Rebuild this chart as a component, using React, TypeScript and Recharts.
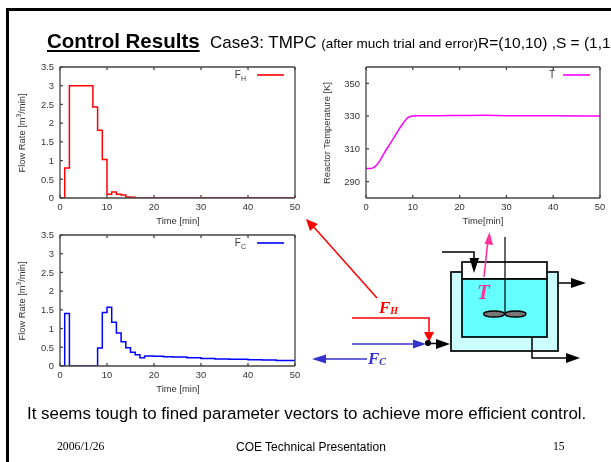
import React from "react";
import { LineChart, Line, XAxis, YAxis, Legend } from "recharts";

const timeMinutes = [0,1,2,3,4,5,6,7,8,9,10,11,12,13,14,15,16,17,18,19,20,22,24,27,30,33,36,40,43,46,50];
const heatFlow = [0,0.8,3,3,3,3,3,2.43,1.81,1.03,0.1,0.16,0.1,0.08,0.03,0.02,0,0,0,0,0,0,0,0,0,0,0,0,0,0,0];
const coolFlow = [0,1.4,0,0,0,0,0,0,0.48,1.43,1.57,1.17,0.88,0.65,0.49,0.37,0.3,0.22,0.27,0.27,0.26,0.25,0.24,0.22,0.2,0.19,0.18,0.17,0.16,0.15,0.14];
const tempTime = [0,1,1.5,2,3,4,5,6,7,8,9,9.5,10,11,12,15,20,25,30,40,50];
const temperature = [298,298,298.4,299.3,303,308,312.5,317,321.8,326,329.2,329.8,330.1,330.3,330.3,330.3,330.4,330.5,330.3,330.2,330.1];
const timeTicks = [0,10,20,30,40,50];
const flowTicks = [0,0.5,1,1.5,2,2.5,3,3.5];
const tempTicks = [290,310,330,350];

const heatData = timeMinutes.map((t, i) => ({ t, v: heatFlow[i] }));
const coolData = timeMinutes.map((t, i) => ({ t, v: coolFlow[i] }));
const tempData = tempTime.map((t, i) => ({ t, v: temperature[i] }));

const AX = "#444";
const FONT = "'Liberation Sans', Arial, sans-serif";
const tick = { fontSize: 9.4, fill: "#333", fontFamily: FONT };
const axLine = { stroke: AX, strokeWidth: 1.3 };
const blank = () => "";

type PanelProps = {
  left: number; top: number; width: number; height: number; mLeft: number;
  data: { t: number; v: number }[]; yDomain: [number, number]; yTicks: number[];
  color: string; type: "stepAfter" | "monotone"; yLabel: React.ReactNode; yLabelX: number; xLabel: string; xLabelCenter: number;
  name: string; sub?: string;
};

function Panel(p: PanelProps) {
  const plotTop = 12;
  const bottom = 32;
  const plotH = p.height - plotTop - bottom;
  return (
    <div style={{ position: "absolute", left: p.left, top: p.top, width: p.width, height: p.height }}>
      <LineChart width={p.width} height={p.height} data={p.data}
        margin={{ top: plotTop - 1, right: 9, bottom: 14, left: p.mLeft - 40 }}>
        <XAxis xAxisId="b" dataKey="t" type="number" domain={[0, 50]} ticks={timeTicks} allowDataOverflow
          height={18} axisLine={axLine} tickLine={axLine} tickSize={-3} tickMargin={8} tick={tick} interval={0} />
        <XAxis xAxisId="t" dataKey="t" type="number" domain={[0, 50]} ticks={timeTicks} orientation="top"
          height={1} axisLine={axLine} tickLine={axLine} tickSize={-3} tickFormatter={blank} interval={0} />
        <YAxis yAxisId="l" type="number" domain={p.yDomain} ticks={p.yTicks} width={40} allowDataOverflow
          axisLine={axLine} tickLine={axLine} tickSize={-3} tickMargin={9} tick={tick} interval={0} />
        <YAxis yAxisId="r" type="number" domain={p.yDomain} ticks={p.yTicks} orientation="right" width={1}
          axisLine={axLine} tickLine={axLine} tickSize={-3} tickFormatter={blank} interval={0} />
        <Legend verticalAlign="top" align="right" wrapperStyle={{ position: "absolute", top: 0, left: 0, width: p.width, height: 0 }}
          content={() => (
            <div style={{ position: "absolute", left: p.mLeft + 157, top: plotTop + 3, width: 67, height: 12, fontFamily: FONT, fontSize: 10, color: "#333", lineHeight: "10px" }}>
              <span style={{ position: "absolute", right: p.sub ? 38 : 35, top: 0, whiteSpace: "nowrap" }}>{p.name}{p.sub ? <sub style={{ fontSize: 7, lineHeight: 0 }}>{p.sub}</sub> : null}</span>
              <svg width={27} height={6} style={{ position: "absolute", left: 40, top: 2 }}>
                <line x1={0} y1={3} x2={27} y2={3} stroke={p.color} strokeWidth={1.6} />
              </svg>
            </div>
          )} />
        <Line xAxisId="b" yAxisId="l" dataKey="v" type={p.type} stroke={p.color} strokeWidth={1.5} dot={false} isAnimationActive={false} />
      </LineChart>
      <div style={{ position: "absolute", left: p.yLabelX - 70, top: plotTop + plotH / 2 - 6, width: 140, height: 12, lineHeight: "12px", textAlign: "center", fontFamily: FONT, fontSize: 9.4, color: "#333", transform: "rotate(-90deg)" }}>{p.yLabel}</div>
      <div style={{ position: "absolute", left: p.xLabelCenter - 40, top: p.height - 15, width: 80, textAlign: "center", lineHeight: "12px", fontFamily: FONT, fontSize: 9.4, color: "#333" }}>{p.xLabel}</div>
    </div>
  );
}

const flowLabel = <span>Flow Rate [m<sup style={{ fontSize: 6.5, lineHeight: 0 }}>3</sup>/min]</span>;

function Diagram() {
  const Head = ({ d, fill }: { d: string; fill: string }) => <polygon points={d} fill={fill} />;
  const serif = "'Liberation Serif', serif";
  return (
    <svg width={611} height={462} style={{ position: "absolute", left: 0, top: 0 }}>
      <rect x={451} y={272} width={107} height={79} fill="#ccffff" stroke="#000" strokeWidth={1.7} />
      <rect x={462} y={262} width={85} height={17} fill="#fff" stroke="#000" strokeWidth={1.7} />
      <rect x={462} y={279} width={85} height={58} fill="#66ffff" stroke="#000" strokeWidth={1.7} />
      <line x1={505} y1={237} x2={505} y2={313} stroke="#000" strokeWidth={1.2} />
      <ellipse cx={494} cy={314} rx={10.5} ry={3} fill="#777" stroke="#000" strokeWidth={1.3} />
      <ellipse cx={515.5} cy={314} rx={10.5} ry={3} fill="#777" stroke="#000" strokeWidth={1.3} />
      <polyline points="442,252 474,252 474,262" fill="none" stroke="#000" strokeWidth={1.5} />
      <Head d="469.5,258 479,258 474,273" fill="#000" />
      <line x1={558} y1={283} x2={575} y2={283} stroke="#000" strokeWidth={1.5} />
      <Head d="571,278 586,283 571,288" fill="#000" />
      <polyline points="532,337 532,358 570,358" fill="none" stroke="#000" strokeWidth={1.5} />
      <Head d="566,353 580,358 566,363" fill="#000" />
      <line x1={484} y1={277} x2={488} y2={240} stroke="#ff3399" strokeWidth={1.6} />
      <Head d="484.5,244 489.5,232 493,245" fill="#ff3399" />
      <text x={477} y={299} fontFamily={serif} fontWeight="bold" fontStyle="italic" fontSize={21} fill="#ff3399">T</text>
      <line x1={377} y1={298} x2={312} y2={225} stroke="#ff0000" strokeWidth={1.5} />
      <Head d="306,219 318,224 310,231" fill="#ff0000" />
      <polyline points="352,318 429,318 429,335" fill="none" stroke="#ff0000" strokeWidth={1.5} />
      <Head d="424,332 434,332 429,342" fill="#ff0000" />
      <text x={379} y={313} fontFamily={serif} fontWeight="bold" fontStyle="italic" fontSize={17} fill="#ff0000">F<tspan fontSize={10} dy={1}>H</tspan></text>
      <line x1={352} y1={344} x2={420} y2={344} stroke="#3333cc" strokeWidth={1.5} />
      <Head d="413,339.5 426,344 413,348.5" fill="#3333cc" />
      <line x1={428} y1={343.5} x2={440} y2={343.5} stroke="#000" strokeWidth={1.5} />
      <Head d="436,339 450,344 436,349" fill="#000" />
      <circle cx={428} cy={343} r={3} fill="#000" />
      <line x1={367} y1={359} x2={322} y2={359} stroke="#3333cc" strokeWidth={1.5} />
      <Head d="312,359 326,354.5 326,363.5" fill="#3333cc" />
      <text x={368} y={364} fontFamily={serif} fontWeight="bold" fontStyle="italic" fontSize={17} fill="#3333cc">F<tspan fontSize={10} dy={1}>C</tspan></text>
    </svg>
  );
}

export default function App() {
  const T: React.CSSProperties = { position: "absolute", whiteSpace: "nowrap", fontFamily: FONT, color: "#000" };
  return (
    <div style={{ position: "fixed", left: 0, top: 0, width: 611, height: 462, overflow: "hidden", background: "#fff", filter: "blur(0.4px)" }}>
      <div style={{ position: "absolute", left: 6, top: 8, width: 700, height: 600, borderLeft: "3px solid #000", borderTop: "3px solid #000" }} />
      <div style={{ ...T, left: 47, top: 29, fontSize: 20.5, fontWeight: "bold", textDecoration: "underline" }}>Control Results</div>
      <div style={{ ...T, left: 210, top: 33, fontSize: 17 }}>
        Case3: TMPC <span style={{ fontSize: 13.5 }}>(after much trial and error)</span><span style={{ fontSize: 15.5 }}>R=(10,10) ,S = (1,1</span>
      </div>
      <Panel left={0} top={55} width={305} height={175} mLeft={60} data={heatData} yDomain={[0, 3.5]} yTicks={flowTicks}
        color="#ff0000" type="stepAfter" yLabel={flowLabel} yLabelX={22} xLabel="Time [min]" xLabelCenter={178} name="F" sub="H" />
      <Panel left={310} top={55} width={300} height={175} mLeft={56} data={tempData} yDomain={[280, 360]} yTicks={tempTicks}
        color="#ff00ff" type="monotone" yLabel="Reactor Temperature [K]" yLabelX={17} xLabel="Time[min]" xLabelCenter={173} name="T" />
      <Panel left={0} top={223} width={305} height={175} mLeft={60} data={coolData} yDomain={[0, 3.5]} yTicks={flowTicks}
        color="#0000ff" type="stepAfter" yLabel={flowLabel} yLabelX={22} xLabel="Time [min]" xLabelCenter={178} name="F" sub="C" />
      <Diagram />
      <div style={{ ...T, left: 27, top: 404, fontSize: 16.9 }}>It seems tough to fined parameter vectors to achieve more efficient control.</div>
      <div style={{ ...T, left: 57, top: 440, fontSize: 11.7, fontFamily: "'Liberation Serif', serif" }}>2006/1/26</div>
      <div style={{ ...T, left: 236, top: 440, fontSize: 12 }}>COE Technical Presentation</div>
      <div style={{ ...T, left: 553, top: 440, fontSize: 11.7, fontFamily: "'Liberation Serif', serif" }}>15</div>
    </div>
  );
}
